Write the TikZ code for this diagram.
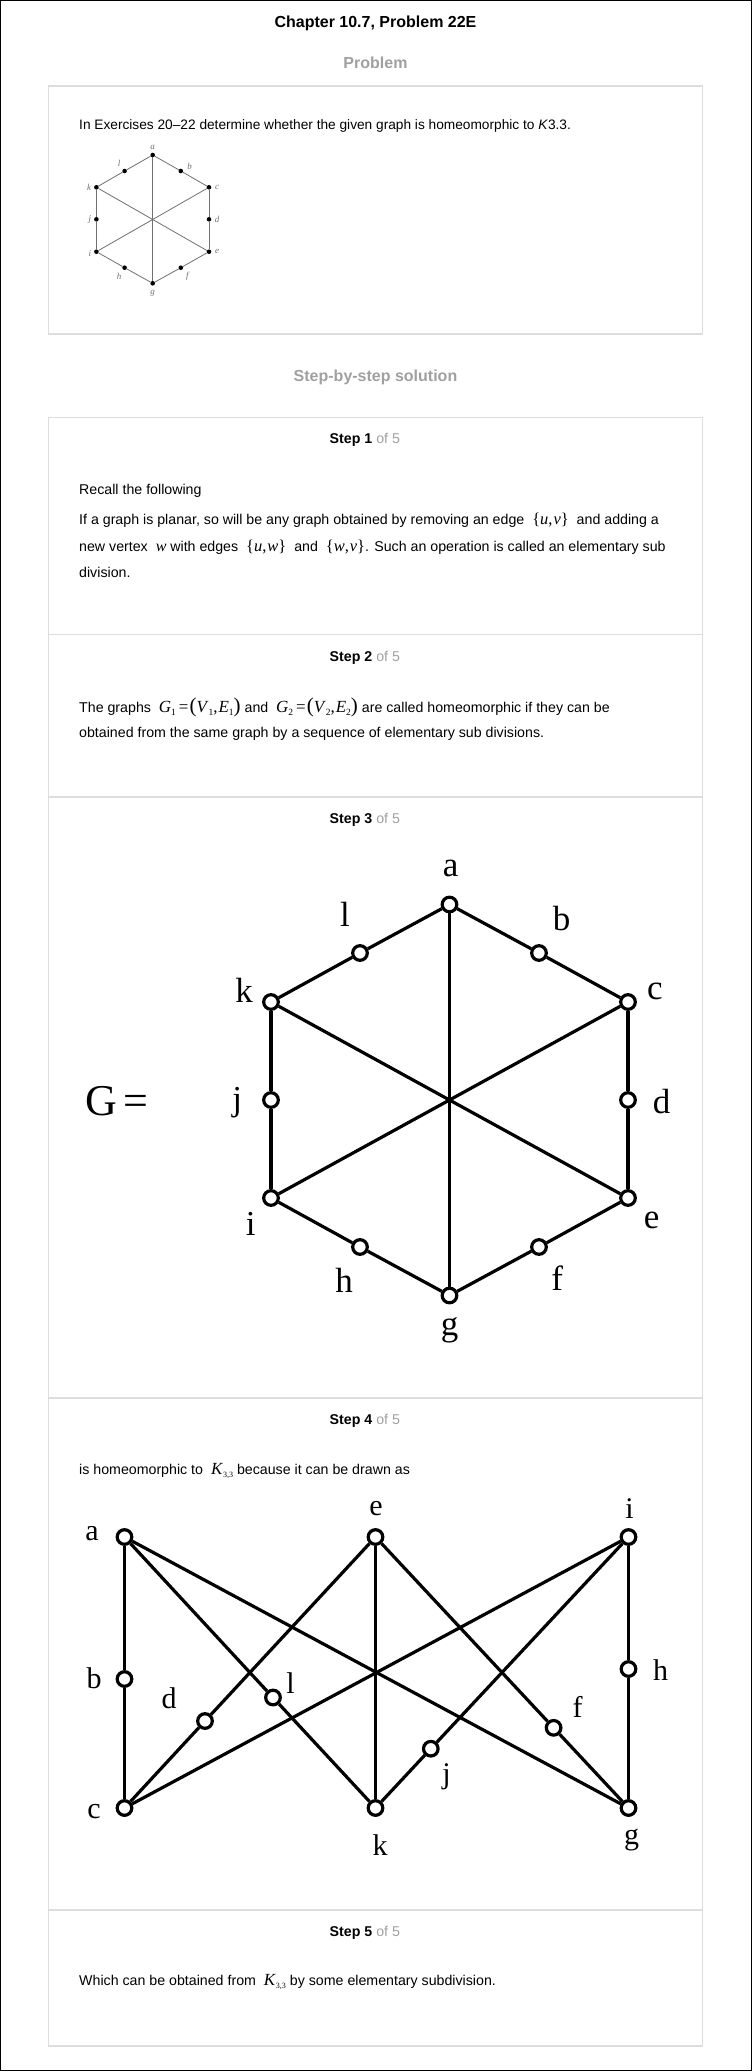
\documentclass[tikz,border=0pt]{standalone}
\usepackage{fontspec}
\setmainfont{Liberation Sans}
\newfontfamily\timesfont{Liberation Serif}
\definecolor{boxline}{HTML}{DDDDDD}
\definecolor{headgray}{HTML}{A0A0A0}
\definecolor{scan}{HTML}{707070}
\newcommand{\mvar}[1]{{\timesfont\fontsize{16}{16}\selectfont\itshape #1}}
\newcommand{\msubs}[1]{\raisebox{-3pt}{\fontsize{9.5}{10}\selectfont\upshape #1}}
\newcommand{\mset}[2]{{\timesfont\fontsize{16.5}{17}\selectfont\{\textit{#1},\kern1pt\textit{#2}\}}}
\newcommand{\gpair}[1]{{\timesfont\fontsize{17}{17}\selectfont\textit{G}\msubs{#1}\kern3pt=\kern1pt{\fontsize{21}{21}\selectfont(}\textit{V}\msubs{#1},\kern1pt\textit{E}\msubs{#1}{\fontsize{21}{21}\selectfont)}}}
\newcommand{\kthree}{{\timesfont\fontsize{17}{17}\selectfont\textit{K}\raisebox{-3pt}{\fontsize{8}{8}\selectfont 3,3}}}
\begin{document}
\begin{tikzpicture}[x=1pt,y=-1pt,
  bodytext/.style={anchor=base west,inner sep=0pt,font=\fontsize{14.2}{16}\selectfont},
  steptitle/.style={anchor=base west,inner sep=0pt,font=\bfseries\fontsize{14.2}{16}\selectfont},
  graytitle/.style={anchor=base,inner sep=0pt,text=headgray,font=\bfseries\fontsize{16}{18}\selectfont},
  panel/.style={draw=boxline,line width=1.5pt},
  sdot/.style={circle,fill=black,inner sep=0pt,minimum size=4.6pt},
  thinline/.style={draw=scan,line width=0.8pt},
  scanlabel/.style={text=scan,font=\timesfont\itshape\fontsize{9}{9}\selectfont,inner sep=0pt},
  vtx/.style={draw,circle,line width=3.2pt,fill=white,inner sep=0pt,minimum size=14.6pt},
  thickline/.style={draw,line width=3.2pt},
  biglabel/.style={font=\timesfont\fontsize{35}{35}\selectfont,inner sep=0pt},
  midlabel/.style={font=\timesfont\fontsize{30}{30}\selectfont,inner sep=0pt}]
\useasboundingbox (0,0) rectangle (752,2071);
\draw[line width=1pt] (0.5,0.5) rectangle (751.5,2070.5);

\node[anchor=base,inner sep=0pt,font=\bfseries\fontsize{16}{18}\selectfont] (title) at (375.5,27.5) {Chapter 10.7, Problem 22E};
\node[graytitle] (problem) at (375.5,69) {Problem};
\draw[panel] (48.5,86) rectangle (702.5,334);
\node[bodytext,font=\fontsize{13.7}{16}\selectfont] (ptext) at (79,130) {In Exercises 20–22 determine whether the given graph is homeomorphic to \textit{K}3.3.};

\node[sdot] (pa) at (152.7,155) {};
\node[sdot] (pl) at (124.6,171) {};
\node[sdot] (pb) at (180.8,171) {};
\node[sdot] (pk) at (96.4,187.3) {};
\node[sdot] (pc) at (209,187.3) {};
\node[sdot] (pj) at (96.4,219.3) {};
\node[sdot] (pd) at (209,219.3) {};
\node[sdot] (pi) at (96.4,251.7) {};
\node[sdot] (pe) at (209,251.7) {};
\node[sdot] (ph) at (124.6,267.7) {};
\node[sdot] (pf) at (180.8,267.7) {};
\node[sdot] (pg) at (152.7,283.3) {};

\node[scanlabel] (pla) at (152.7,147) {a};
\node[scanlabel] (pll) at (119,163.3) {l};
\node[scanlabel] (plb) at (189.6,166.7) {b};
\node[scanlabel] (plk) at (89,187.3) {k};
\node[scanlabel] (plc) at (217,187.3) {c};
\node[scanlabel] (plj) at (89.9,219.3) {j};
\node[scanlabel] (pld) at (217,219.3) {d};
\node[scanlabel] (pli) at (89.9,253.3) {i};
\node[scanlabel] (ple) at (217,251.7) {e};
\node[scanlabel] (plh) at (119,276) {h};
\node[scanlabel] (plf) at (187.4,276) {f};
\node[scanlabel] (plg) at (152.7,293) {g};

\path[thinline] (pa) -- (pl);
\path[thinline] (pl) -- (pk);
\path[thinline] (pk) -- (pj);
\path[thinline] (pj) -- (pi);
\path[thinline] (pi) -- (ph);
\path[thinline] (ph) -- (pg);
\path[thinline] (pg) -- (pf);
\path[thinline] (pf) -- (pe);
\path[thinline] (pe) -- (pd);
\path[thinline] (pd) -- (pc);
\path[thinline] (pc) -- (pb);
\path[thinline] (pb) -- (pa);
\path[thinline] (pa) -- (pg);
\path[thinline] (pk) -- (pe);
\path[thinline] (pc) -- (pi);

\node[graytitle] (solution) at (375.5,381) {Step-by-step solution};
\draw[panel] (48.5,417.5) rectangle (702.5,2046);
\draw[panel] (48.5,634.5) -- (702.5,634.5);
\draw[panel] (48.5,797) -- (702.5,797);
\draw[panel] (48.5,1398) -- (702.5,1398);
\draw[panel] (48.5,1910) -- (702.5,1910);

\node[steptitle] (s1) at (329.5,443) {Step 1\textcolor{headgray}{\mdseries\ of 5}};
\node[bodytext] (s1a) at (79,494) {Recall the following};
\node[bodytext] (s1b) at (79,524) {If a graph is planar, so will be any graph obtained by removing an edge \ \mset{u}{v}\ \ and adding a};
\node[bodytext] (s1c) at (79,551) {new vertex \ \mvar{w}\ with edges \ \mset{u}{w}\ \ and \ \mset{w}{v}. Such an operation is called an elementary sub};
\node[bodytext] (s1d) at (79,577) {division.};

\node[steptitle] (s2) at (329.5,661) {Step 2\textcolor{headgray}{\mdseries\ of 5}};
\node[bodytext] (s2a) at (79,712) {The graphs \ \gpair{1}\ and \ \gpair{2}\ are called homeomorphic if they can be};
\node[bodytext] (s2b) at (79,737) {obtained from the same graph by a sequence of elementary sub divisions.};

\node[steptitle] (s3) at (329.5,823) {Step 3\textcolor{headgray}{\mdseries\ of 5}};
\node[font=\timesfont\fontsize{44}{44}\selectfont,inner sep=0pt] (geq) at (117,1101) {G\kern7pt=};

\node[vtx] (ga) at (449.5,904.5) {};
\node[vtx] (gk) at (271,1002) {};
\node[vtx] (gc) at (628,1002) {};
\node[vtx] (gi) at (271,1198) {};
\node[vtx] (ge) at (628,1198) {};
\node[vtx] (gg) at (449.5,1295.5) {};
\node[vtx] (gl) at (360,953) {};
\node[vtx] (gb) at (539,953) {};
\node[vtx] (gj) at (271,1100) {};
\node[vtx] (gd) at (628,1100) {};
\node[vtx] (gh) at (360,1247) {};
\node[vtx] (gf) at (539,1247) {};

\node[biglabel] (gla) at (450.7,868.3) {a};
\node[biglabel] (gll) at (345,914) {l};
\node[biglabel] (glb) at (561.7,918.3) {b};
\node[biglabel] (glk) at (244,990) {k};
\node[biglabel] (glc) at (655,991.7) {c};
\node[biglabel] (glj) at (237.3,1102.3) {j};
\node[biglabel] (gld) at (661.7,1101.7) {d};
\node[biglabel] (gli) at (250.7,1224) {i};
\node[biglabel] (gle) at (651.7,1220) {e};
\node[biglabel] (glh) at (344,1280) {h};
\node[biglabel] (glf) at (557.3,1278.3) {f};
\node[biglabel] (glg) at (449.5,1330) {g};

\path[thickline] (ga) -- (gl);
\path[thickline] (gl) -- (gk);
\path[thickline] (gk) -- (gj);
\path[thickline] (gj) -- (gi);
\path[thickline] (gi) -- (gh);
\path[thickline] (gh) -- (gg);
\path[thickline] (gg) -- (gf);
\path[thickline] (gf) -- (ge);
\path[thickline] (ge) -- (gd);
\path[thickline] (gd) -- (gc);
\path[thickline] (gc) -- (gb);
\path[thickline] (gb) -- (ga);
\path[thickline] (ga) -- (gg);
\path[thickline] (gk) -- (ge);
\path[thickline] (gc) -- (gi);

\node[steptitle] (s4) at (329.5,1424) {Step 4\textcolor{headgray}{\mdseries\ of 5}};
\node[bodytext] (s4a) at (79,1474) {is homeomorphic to \ \kthree\ because it can be drawn as};

\node[vtx] (ka) at (124.5,1537) {};
\node[vtx] (ke) at (375.5,1537) {};
\node[vtx] (ki) at (628.5,1537) {};
\node[vtx] (kc) at (124.5,1808) {};
\node[vtx] (kk) at (375.5,1808) {};
\node[vtx] (kg) at (628.5,1808) {};
\node[vtx] (kb) at (124.5,1679) {};
\node[vtx] (kh) at (628.5,1669) {};
\node[vtx] (kd) at (205,1721) {};
\node[vtx] (kl) at (273,1697.5) {};
\node[vtx] (kj) at (430.8,1748.7) {};
\node[vtx] (kf) at (553.6,1727.8) {};

\node[midlabel] (kla) at (92,1533.3) {a};
\node[midlabel] (kle) at (376,1508.3) {e};
\node[midlabel] (kli) at (629.5,1508.3) {i};
\node[midlabel] (klb) at (94,1678.3) {b};
\node[midlabel] (kld) at (169,1698.3) {d};
\node[midlabel] (kll) at (290.5,1683.3) {l};
\node[midlabel] (klh) at (660.7,1670) {h};
\node[midlabel] (klf) at (577.5,1706.7) {f};
\node[midlabel] (klj) at (446.6,1776.7) {j};
\node[midlabel] (klc) at (94,1811.7) {c};
\node[midlabel] (klk) at (380,1845) {k};
\node[midlabel] (klg) at (631.7,1840) {g};

\path[thickline] (ka) -- (kb);
\path[thickline] (kb) -- (kc);
\path[thickline] (ka) -- (kl);
\path[thickline] (kl) -- (kk);
\path[thickline] (ka) -- (kg);
\path[thickline] (ke) -- (kd);
\path[thickline] (kd) -- (kc);
\path[thickline] (ke) -- (kk);
\path[thickline] (ke) -- (kf);
\path[thickline] (kf) -- (kg);
\path[thickline] (ki) -- (kc);
\path[thickline] (ki) -- (kj);
\path[thickline] (kj) -- (kk);
\path[thickline] (ki) -- (kh);
\path[thickline] (kh) -- (kg);

\node[steptitle] (s5) at (329.5,1936) {Step 5\textcolor{headgray}{\mdseries\ of 5}};
\node[bodytext] (s5a) at (79,1985) {Which can be obtained from \ \kthree\ by some elementary subdivision.};
\end{tikzpicture}
\end{document}
